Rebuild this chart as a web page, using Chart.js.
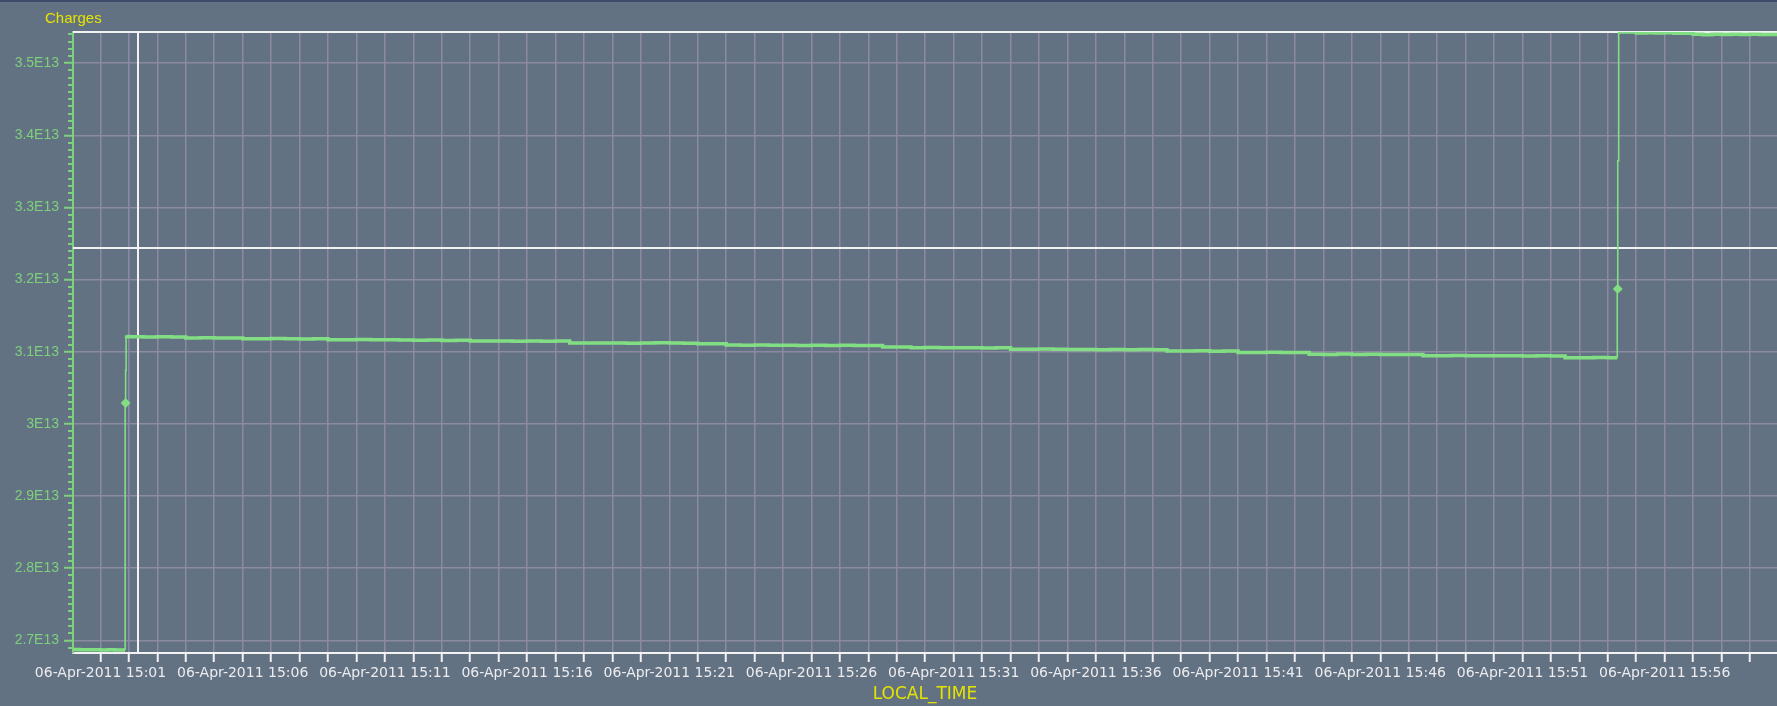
<!DOCTYPE html>
<html><head><meta charset="utf-8">
<script src="https://cdn.jsdelivr.net/npm/chart.js@4.4.0/dist/chart.umd.min.js"></script>
<style>
html,body{margin:0;padding:0;background:#637282;overflow:hidden}
canvas{display:block}
</style></head><body>
<canvas id="c" width="1777" height="706"></canvas>
<script>
// ---- data ----
const sampleTimes = [
"15:00:02","15:00:15","15:00:30","15:00:45","15:01:00","15:01:15","15:01:30","15:01:45","15:01:52",
"15:01:53","15:01:54","15:01:55",
"15:02:00","15:02:30","15:03:00","15:03:30","15:04:00","15:04:30","15:05:00","15:05:30","15:06:00","15:06:30",
"15:07:00","15:07:30","15:08:00","15:08:30","15:09:00","15:09:30","15:10:00","15:10:30","15:11:00","15:11:30",
"15:12:00","15:12:30","15:13:00","15:13:30","15:14:00","15:14:30","15:15:00","15:15:30","15:16:00","15:16:30",
"15:17:00","15:17:30","15:18:00","15:18:30","15:19:00","15:19:30","15:20:00","15:20:30","15:21:00","15:21:30",
"15:22:00","15:22:30","15:23:00","15:23:30","15:24:00","15:24:30","15:25:00","15:25:30","15:26:00","15:26:30",
"15:27:00","15:27:30","15:28:00","15:28:30","15:29:00","15:29:30","15:30:00","15:30:30","15:31:00","15:31:30",
"15:32:00","15:32:30","15:33:00","15:33:30","15:34:00","15:34:30","15:35:00","15:35:30","15:36:00","15:36:30",
"15:37:00","15:37:30","15:38:00","15:38:30","15:39:00","15:39:30","15:40:00","15:40:30","15:41:00","15:41:30",
"15:42:00","15:42:30","15:43:00","15:43:30","15:44:00","15:44:30","15:45:00","15:45:30","15:46:00","15:46:30",
"15:47:00","15:47:30","15:48:00","15:48:30","15:49:00","15:49:30","15:50:00","15:50:30","15:51:00","15:51:30",
"15:52:00","15:52:30","15:53:00","15:53:30","15:54:00","15:54:20",
"15:54:21","15:54:23","15:54:25",
"15:54:45","15:55:00","15:55:20","15:55:40","15:56:00","15:56:20","15:56:40","15:57:00","15:57:20","15:57:40",
"15:58:00","15:58:20","15:58:40","15:59:00","15:59:20","15:59:40","15:59:57"
];
const chargeValues = [
2.6873e13,2.6872e13,2.6870e13,2.6868e13,2.6869e13,2.6866e13,2.6868e13,2.6866e13,2.6865e13,
3.0290e13,3.0741e13,3.1222e13,
3.1212e13,3.1206e13,3.1204e13,3.1208e13,3.1204e13,3.1192e13,3.1194e13,3.1190e13,3.1192e13,3.1181e13,
3.1180e13,3.1183e13,3.1180e13,3.1178e13,3.1181e13,3.1167e13,3.1166e13,3.1169e13,3.1165e13,3.1167e13,
3.1163e13,3.1159e13,3.1161e13,3.1157e13,3.1159e13,3.1150e13,3.1148e13,3.1150e13,3.1147e13,3.1149e13,
3.1146e13,3.1148e13,3.1122e13,3.1121e13,3.1120e13,3.1122e13,3.1119e13,3.1121e13,3.1124e13,3.1120e13,
3.1118e13,3.1111e13,3.1112e13,3.1092e13,3.1090e13,3.1093e13,3.1089e13,3.1091e13,3.1088e13,3.1090e13,
3.1087e13,3.1089e13,3.1085e13,3.1087e13,3.1066e13,3.1064e13,3.1056e13,3.1060e13,3.1055e13,3.1054e13,
3.1056e13,3.1053e13,3.1055e13,3.1036e13,3.1034e13,3.1037e13,3.1033e13,3.1030e13,3.1032e13,3.1029e13,
3.1031e13,3.1028e13,3.1030e13,3.1027e13,3.1011e13,3.1009e13,3.1012e13,3.1008e13,3.1010e13,3.0991e13,
3.0989e13,3.0992e13,3.0988e13,3.0990e13,3.0965e13,3.0963e13,3.0970e13,3.0962e13,3.0964e13,3.0961e13,
3.0963e13,3.0960e13,3.0946e13,3.0944e13,3.0947e13,3.0945e13,3.0943e13,3.0946e13,3.0944e13,3.0941e13,
3.0943e13,3.0940e13,3.0918e13,3.0917e13,3.0919e13,3.0917e13,
3.1871e13,3.3647e13,3.5432e13,
3.5431e13,3.5432e13,3.5418e13,3.5421e13,3.5417e13,3.5420e13,3.5416e13,3.5415e13,3.5401e13,3.5394e13,
3.5400e13,3.5398e13,3.5401e13,3.5398e13,3.5400e13,3.5399e13,3.5398e13
];
const xTickLabels = [
"06-Apr-2011 15:01","06-Apr-2011 15:06","06-Apr-2011 15:11","06-Apr-2011 15:16",
"06-Apr-2011 15:21","06-Apr-2011 15:26","06-Apr-2011 15:31","06-Apr-2011 15:36",
"06-Apr-2011 15:41","06-Apr-2011 15:46","06-Apr-2011 15:51","06-Apr-2011 15:56"
];
const yTickLabels = ["2.7E13","2.8E13","2.9E13","3E13","3.1E13","3.2E13","3.3E13","3.4E13","3.5E13"];
const yAxisTitle = "Charges";
const xAxisTitle = "LOCAL_TIME";
const axisStartTime = "15:00:02";
const axisEndTime = "15:59:57";
const yAxisMin = 2.6824e13;
const yAxisMax = 3.5432e13;
const cursorTime = "15:02:20";
const cursorCharge = 3.244e13;

// ---- helpers ----
const toSec = s => { const p = s.split(':').map(Number); return (p[0]-15)*3600 + p[1]*60 + (p[2]||0); };
const MINOR_STEP = 1e11;
const isMajorY = v => Math.round(v / MINOR_STEP) % 10 === 0;
const labelForY = v => { const l = yTickLabels.find(t => Number(t) === v); return l || ''; };
const labelForX = v => { const l = xTickLabels.find(t => toSec(t.slice(-5)) === v); return l || ''; };

const GREEN = '#7dd07d';
const LINE = '#82de82';
const GRID = '#8b8aa2';
const WHITE = '#f2f2f4';
const YELLOW = '#e4e400';

const points = sampleTimes.map((t, i) => ({x: toSec(t), y: chargeValues[i]}));

const decor = {
  id: 'decor',
  beforeDraw(chart) {
    const c = chart.ctx;
    c.save();
    c.fillStyle = '#637282';
    c.fillRect(0, 0, chart.width, chart.height);
    c.fillStyle = '#3f4b68';
    c.fillRect(0, 0, chart.width, 2);
    c.restore();
  },
  beforeDatasetsDraw(chart) {
    const c = chart.ctx, a = chart.chartArea;
    const xs = chart.scales.x, ys = chart.scales.y;
    c.save();
    c.strokeStyle = WHITE;
    c.lineWidth = 2;
    c.beginPath(); c.moveTo(a.left, a.top); c.lineTo(a.right, a.top); c.stroke();
    const cx = Math.round(xs.getPixelForValue(toSec(cursorTime)));
    const cy = Math.round(ys.getPixelForValue(cursorCharge));
    c.beginPath(); c.moveTo(cx, a.top); c.lineTo(cx, a.bottom); c.stroke();
    c.beginPath(); c.moveTo(a.left, cy); c.lineTo(a.right, cy); c.stroke();
    c.restore();
  },
  afterDraw(chart) {
    const c = chart.ctx, a = chart.chartArea, ys = chart.scales.y;
    c.save();
    c.strokeStyle = GREEN; c.lineWidth = 2;
    ys.ticks.forEach(t => {
      if (isMajorY(t.value)) return;
      const y = Math.round(ys.getPixelForValue(t.value));
      c.beginPath(); c.moveTo(a.left - 5, y); c.lineTo(a.left, y); c.stroke();
    });
    c.fillStyle = YELLOW;
    c.font = '15px "Liberation Sans"';
    c.textAlign = 'left'; c.textBaseline = 'alphabetic';
    c.fillText(yAxisTitle, a.left - 28, a.top - 9);
    c.restore();
  }
};

const bigRise = 9e10, flat = 1e10;
new Chart(document.getElementById('c'), {
  type: 'line',
  data: { datasets: [{
    data: points,
    borderColor: LINE,
    backgroundColor: LINE,
    borderWidth: 3.5,
    stepped: 'after',
    tension: 0,
    pointStyle: 'rectRot',
    pointRadius: ctx => {
      const i = ctx.dataIndex, d = chargeValues;
      if (i < 2 || i >= d.length - 1) return 0;
      return (d[i]-d[i-1] > bigRise && Math.abs(d[i-1]-d[i-2]) < flat) ? 2.5 : 0;
    },
    pointHoverRadius: 0,
    segment: { borderWidth: ctx => Math.abs(ctx.p1.parsed.y - ctx.p0.parsed.y) > 1e11 ? 1.6 : 3.5 }
  }]},
  options: {
    responsive: false,
    animation: false,
    devicePixelRatio: 1,
    events: [],
    layout: { padding: { top: 32, left: 0, right: 0, bottom: 0 } },
    plugins: { legend: { display: false }, tooltip: { enabled: false } },
    scales: {
      x: {
        type: 'linear',
        min: toSec(axisStartTime),
        max: toSec(axisEndTime),
        afterBuildTicks: s => {
          const t = [];
          for (let m = Math.ceil(s.min / 60); m * 60 <= s.max; m++) t.push({ value: m * 60 });
          s.ticks = t;
        },
        afterFit: s => { s.height = 53; },
        grid: { color: GRID, lineWidth: 1.5, tickColor: WHITE, tickLength: 9, tickWidth: 2 },
        border: { color: WHITE, width: 2 },
        ticks: {
          autoSkip: false, maxRotation: 0, minRotation: 0, padding: 3,
          color: '#ececf0', font: { family: 'DejaVu Sans', size: 14 },
          callback: v => labelForX(v)
        },
        title: { display: true, text: xAxisTitle, color: YELLOW,
                 font: { family: 'DejaVu Sans', size: 17 }, padding: { top: 0, bottom: 1 } }
      },
      y: {
        type: 'linear',
        min: yAxisMin,
        max: yAxisMax,
        afterBuildTicks: s => {
          const t = [];
          for (let k = Math.ceil(s.min / MINOR_STEP); k * MINOR_STEP <= s.max; k++) t.push({ value: k * MINOR_STEP });
          s.ticks = t;
        },
        afterFit: s => { s.width = 73; },
        grid: {
          color: ctx => (ctx.tick && isMajorY(ctx.tick.value)) ? GRID : 'rgba(0,0,0,0)',
          lineWidth: 1.5,
          tickColor: ctx => (ctx.tick && isMajorY(ctx.tick.value)) ? GREEN : 'rgba(0,0,0,0)',
          tickLength: 9, tickWidth: 2
        },
        border: { color: GREEN, width: 2 },
        ticks: {
          autoSkip: false, padding: 5,
          color: GREEN, font: { family: 'Liberation Sans', size: 14 },
          callback: v => labelForY(v)
        }
      }
    }
  },
  plugins: [decor]
});
</script>
</body></html>
